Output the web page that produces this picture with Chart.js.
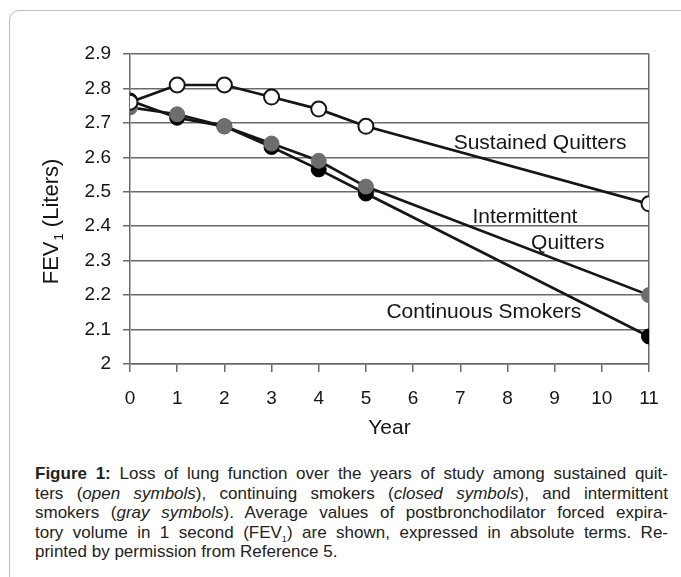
<!DOCTYPE html>
<html>
<head>
<meta charset="utf-8">
<script src="https://cdn.jsdelivr.net/npm/chart.js@4.4.1/dist/chart.umd.min.js"></script>
<style>
  html, body { margin: 0; padding: 0; background: #fff; }
  body { width: 681px; height: 577px; position: relative; overflow: hidden; font-family: "Liberation Sans", Arial, sans-serif; }
  .frame { position: absolute; left: 9px; top: 10px; width: 700px; height: 590px; border: 1px solid #bdbdbd; border-radius: 10px; }
  .chart-wrap { position: absolute; left: 0; top: 0; width: 681px; height: 450px; }
  .caption { position: absolute; left: 35px; top: 464px; width: 633px; font-size: 17px; line-height: 19.5px; color: #222; }
  .caption div { text-align: justify; text-align-last: justify; }
  .caption div.last { text-align-last: left; }
  .caption sub { font-size: 9px; line-height: 0; }
</style>
</head>
<body>
<div class="frame"></div>
<div class="chart-wrap"><canvas id="fev"></canvas></div>
<div class="caption">
  <div><b>Figure 1:</b> Loss of lung function over the years of study among sustained quit-</div>
  <div>ters (<i>open symbols</i>), continuing smokers (<i>closed symbols</i>), and intermittent</div>
  <div>smokers (<i>gray symbols</i>). Average values of postbronchodilator forced expira-</div>
  <div>tory volume in 1 second (FEV<sub>1</sub>) are shown, expressed in absolute terms. Re-</div>
  <div class="last">printed by permission from Reference 5.</div>
</div>
<script>
// ---- data ----
const years = [0, 1, 2, 3, 4, 5, 11];
const sustainedQuitters = [2.76, 2.81, 2.81, 2.775, 2.74, 2.69, 2.465];
const intermittentQuitters = [2.745, 2.725, 2.69, 2.64, 2.59, 2.515, 2.20];
const continuousSmokers = [2.765, 2.715, 2.69, 2.63, 2.565, 2.495, 2.08];

const xTicks = [0, 1, 2, 3, 4, 5, 6, 7, 8, 9, 10, 11];
const yTicks = [2, 2.1, 2.2, 2.3, 2.4, 2.5, 2.6, 2.7, 2.8, 2.9];
const yTickLabels = ['2', '2.1', '2.2', '2.3', '2.4', '2.5', '2.6', '2.7', '2.8', '2.9'];

// in-plot series labels (data coords)
const seriesLabels = [
    { text: 'Sustained Quitters', x: 8.69, y: 2.642 },
    { text: 'Intermittent', x: 8.37, y: 2.426 },
    { text: 'Quitters', x: 9.28, y: 2.351 },
    { text: 'Continuous Smokers', x: 7.5, y: 2.15 }
];

const FONT = '"Liberation Sans", Arial, Helvetica, sans-serif';
const INK = '#151515';
const GRID = '#6a6a6a';

const pts = arr => arr.map((v, i) => ({ x: years[i], y: v }));

// y title with subscript + series labels
const extras = {
    id: 'extras',
    afterDraw(chart) {
        const c = chart.ctx, xs = chart.scales.x, ys = chart.scales.y;
        c.save();
        c.fillStyle = INK;
        c.textBaseline = 'middle';
        c.font = '21px ' + FONT;
        c.textAlign = 'center';
        seriesLabels.forEach(l => c.fillText(l.text, xs.getPixelForValue(l.x), ys.getPixelForValue(l.y)));

        // y axis title: FEV1 (Liters)
        c.translate(52, 222);
        c.rotate(-Math.PI / 2);
        c.textAlign = 'left';
        const big = '22px ' + FONT, small = '13px ' + FONT;
        c.font = big; const w1 = c.measureText('FEV').width;
        c.font = small; const w2 = c.measureText('1').width;
        c.font = big; const w3 = c.measureText(' (Liters)').width;
        const x0 = -(w1 + w2 + w3) / 2;
        c.font = big; c.fillText('FEV', x0, 0);
        c.font = small; c.fillText('1', x0 + w1 + 1, 7);
        c.font = big; c.fillText(' (Liters)', x0 + w1 + w2 + 1, 0);
        c.restore();
    }
};

Chart.defaults.font.family = FONT;
Chart.defaults.color = INK;

new Chart(document.getElementById('fev'), {
    type: 'line',
    data: {
        datasets: [
            {
                label: 'Sustained Quitters', data: pts(sustainedQuitters),
                borderColor: INK, borderWidth: 2.7, tension: 0,
                pointRadius: 7.5, pointBorderWidth: 2, pointBackgroundColor: '#fff', pointBorderColor: INK
            },
            {
                label: 'Intermittent Quitters', data: pts(intermittentQuitters),
                borderColor: INK, borderWidth: 2.7, tension: 0,
                pointRadius: 7.5, pointBorderWidth: 1, pointBackgroundColor: '#6e6e6e', pointBorderColor: '#6e6e6e'
            },
            {
                label: 'Continuous Smokers', data: pts(continuousSmokers),
                borderColor: INK, borderWidth: 2.7, tension: 0,
                pointRadius: 7.5, pointBorderWidth: 1, pointBackgroundColor: '#000', pointBorderColor: '#000'
            }
        ]
    },
    options: {
        responsive: true, maintainAspectRatio: false, animation: false,
        layout: { padding: { left: 0, top: 54, right: 32, bottom: 0 } },
        plugins: { legend: { display: false }, tooltip: { enabled: false } },
        scales: {
            x: {
                type: 'linear', min: 0, max: 11,
                afterBuildTicks: s => { s.ticks = xTicks.map(v => ({ value: v })); },
                afterFit: s => { s.height = 86; },
                grid: {
                    color: ctx => (ctx.tick && ctx.tick.value === 11) ? GRID : 'rgba(0,0,0,0)',
                    tickColor: GRID, tickLength: 8, lineWidth: 1.5, drawTicks: true
                },
                border: { display: true, color: GRID, width: 1.5 },
                ticks: { padding: 15, font: { size: 19 }, color: INK, maxRotation: 0 },
                title: { display: true, text: 'Year', font: { size: 21 }, color: INK, padding: { top: 0, bottom: 9 } }
            },
            y: {
                min: 2, max: 2.9,
                afterBuildTicks: s => { s.ticks = yTicks.map(v => ({ value: v })); },
                afterFit: s => { s.width = 130; },
                grid: { color: GRID, tickColor: GRID, lineWidth: 1.5, tickLength: 7 },
                border: { display: true, color: GRID, width: 1.5 },
                ticks: { padding: 12, font: { size: 19 }, color: INK, callback: (v, i) => yTickLabels[i] }
            }
        }
    },
    plugins: [extras]
});
</script>
</body>
</html>
